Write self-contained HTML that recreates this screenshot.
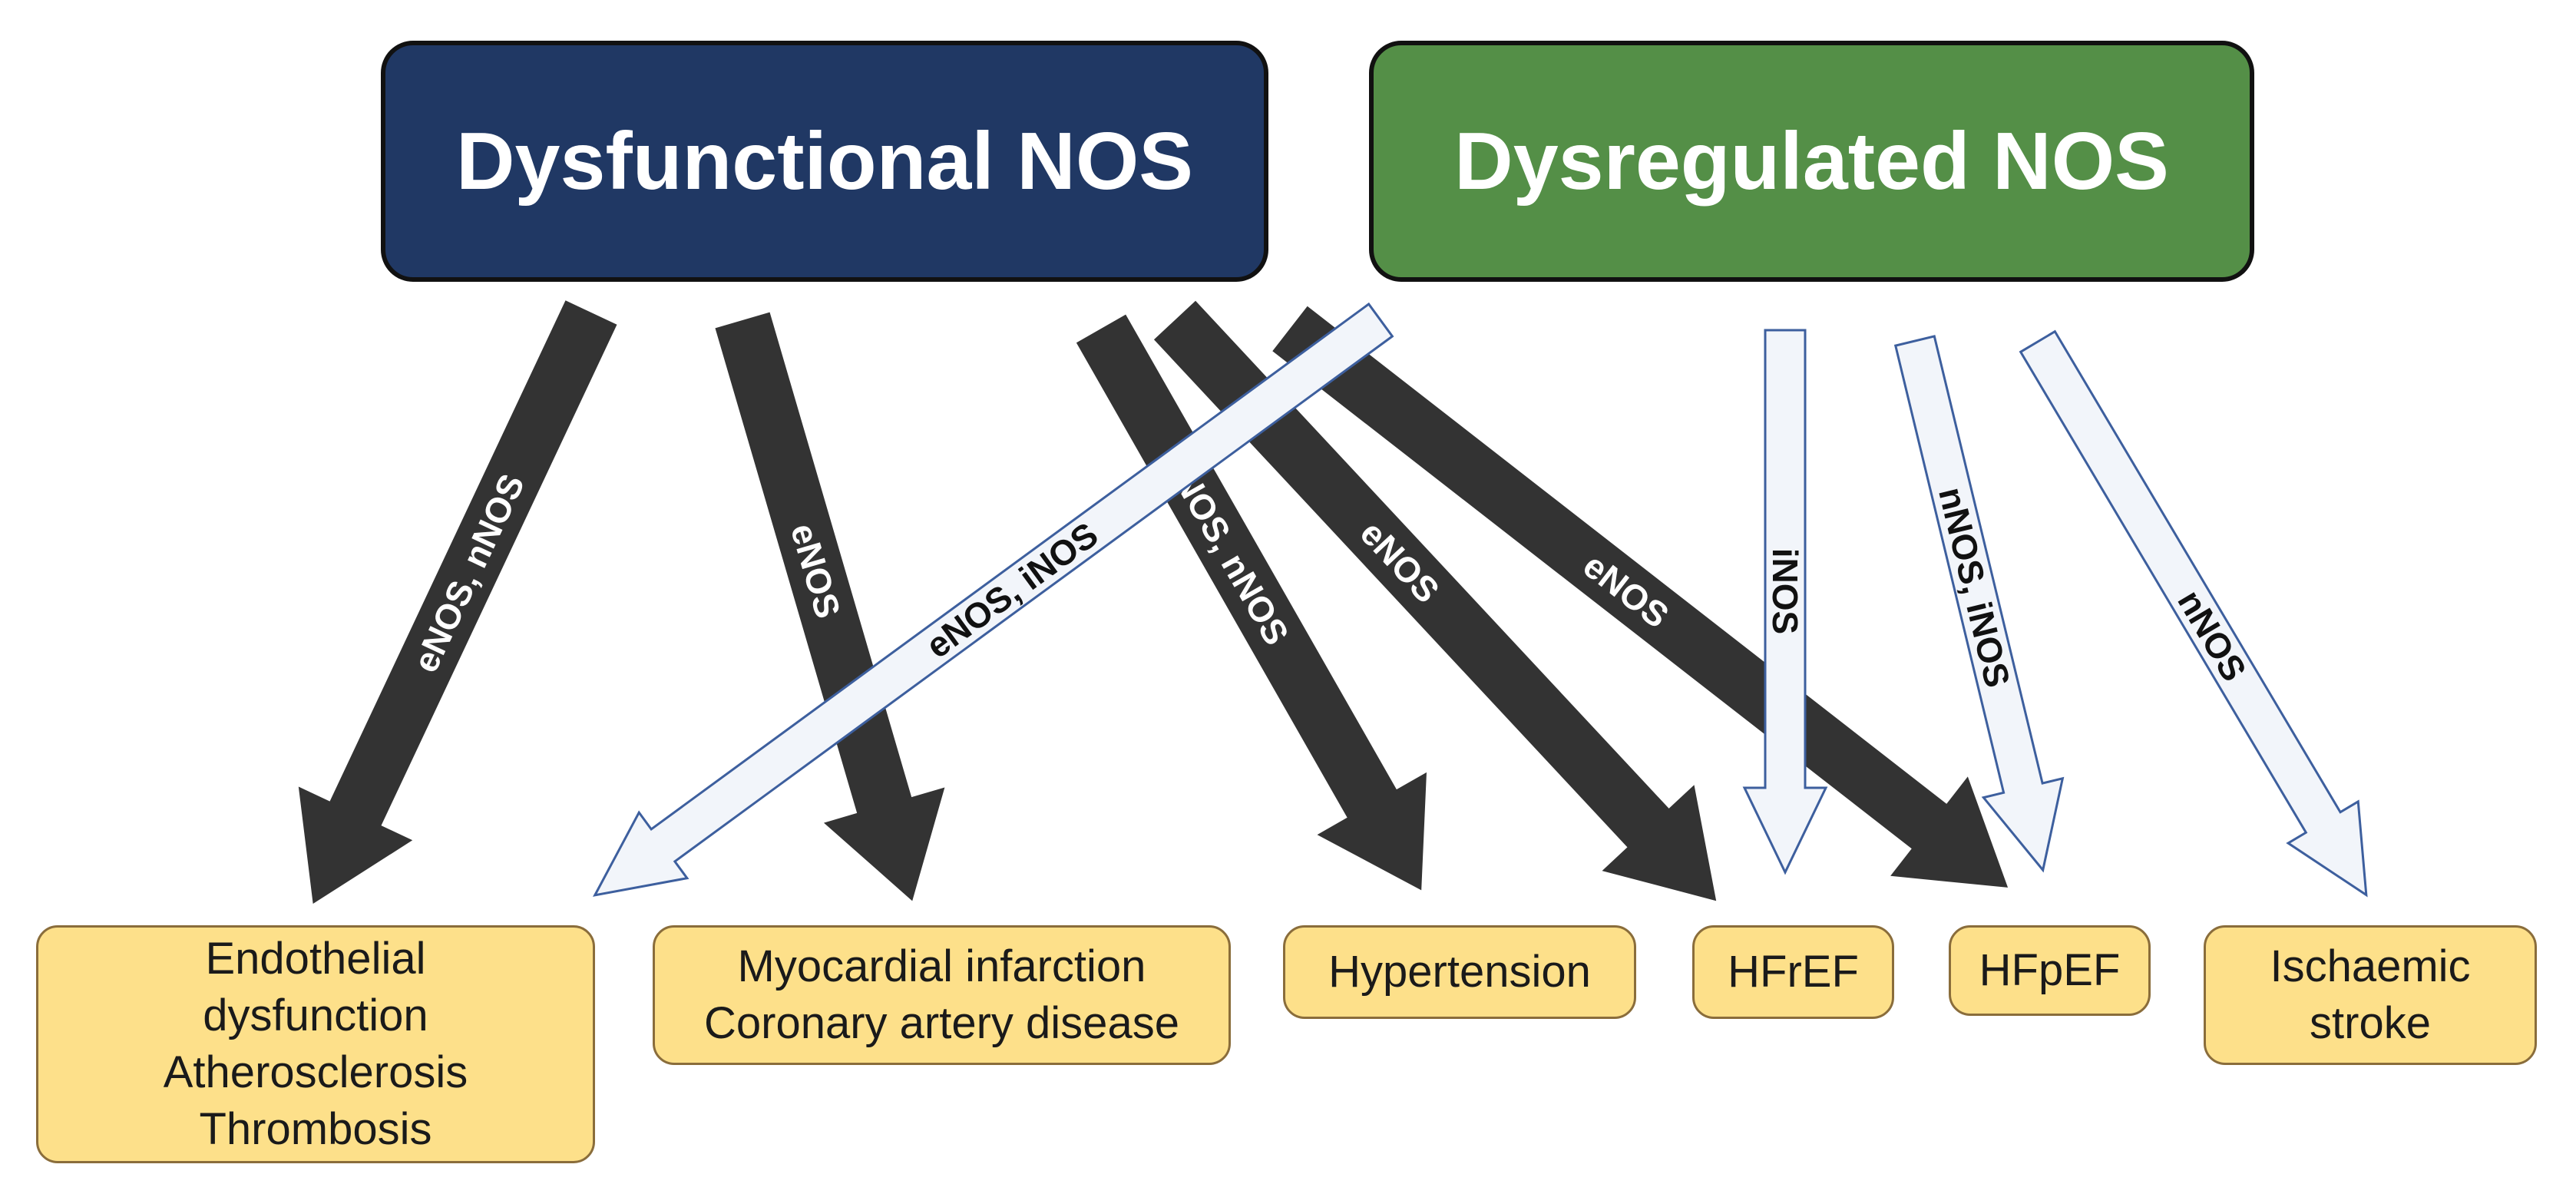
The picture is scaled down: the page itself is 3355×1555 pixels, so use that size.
<!DOCTYPE html>
<html><head><meta charset="utf-8"><style>
html,body{margin:0;padding:0;background:#fff;}
body{width:3355px;height:1555px;position:relative;overflow:hidden;font-family:"Liberation Sans",sans-serif;}
.top{position:absolute;top:53px;height:314px;border:6px solid #111;border-radius:42px;color:#fff;font-weight:bold;font-size:106px;display:flex;align-items:center;justify-content:center;box-sizing:border-box;}
.bx{position:absolute;top:1205px;background:#fde08a;border:3px solid #8a6d3b;border-radius:28px;box-sizing:border-box;display:flex;align-items:center;justify-content:center;text-align:center;font-size:58px;line-height:74px;color:#1a1a1a;white-space:nowrap;}
svg{position:absolute;left:0;top:0;}
</style></head><body>
<div class="top" style="left:496px;width:1156px;background:#203864;">Dysfunctional NOS</div>
<div class="top" style="left:1783px;width:1153px;background:#548f47;">Dysregulated NOS</div>

<svg width="3355" height="1555" viewBox="0 0 3355 1555" font-family="Liberation Sans, sans-serif" font-weight="bold" font-size="46">
<g fill="#333">
 <g transform="translate(770,407) rotate(115.2)"><polygon points="0,-37 721,-37 721,-82 851,0 721,82 721,37 0,37"/><text x="375" y="16" fill="#fff" text-anchor="middle" transform="rotate(180 375 0)">eNOS, nNOS</text></g>
 <g transform="translate(967,417) rotate(73.7)"><polygon points="0,-37 658,-37 658,-82 788,0 658,82 658,37 0,37"/><text x="340" y="16" fill="#fff" text-anchor="middle">eNOS</text></g>
 <g transform="translate(1434,428) rotate(60.3)"><polygon points="0,-37 712,-37 712,-82 842,0 712,82 712,37 0,37"/><text x="330" y="16" fill="#fff" text-anchor="middle">eNOS, nNOS</text></g>
 <g transform="translate(1530,417) rotate(47)"><polygon points="0,-37 904,-37 904,-82 1034,0 904,82 904,37 0,37"/><text x="430" y="16" fill="#fff" text-anchor="middle">eNOS</text></g>
 <g transform="translate(1680,428) rotate(37.9)"><polygon points="0,-37 1055,-37 1055,-82 1185,0 1055,82 1055,37 0,37"/><text x="555" y="16" fill="#fff" text-anchor="middle">eNOS</text></g>
</g>
<g fill="#f2f5fa" stroke="#3d5f9e" stroke-width="3">
 <g transform="translate(1798,417) rotate(143.8)"><polygon points="0,-26 1158,-26 1158,-53 1268,0 1158,53 1158,26 0,26"/><text x="595" y="16" fill="#111" stroke="none" text-anchor="middle" transform="rotate(180 595 0)">eNOS, iNOS</text></g>
 <g transform="translate(2325,430) rotate(90)"><polygon points="0,-26 596,-26 596,-53 706,0 596,53 596,26 0,26"/><text x="340" y="16" fill="#111" stroke="none" text-anchor="middle">iNOS</text></g>
 <g transform="translate(2494,444) rotate(76.4)"><polygon points="0,-26 599,-26 599,-53 709,0 599,53 599,26 0,26"/><text x="330" y="16" fill="#111" stroke="none" text-anchor="middle">nNOS, iNOS</text></g>
 <g transform="translate(2654,445) rotate(59.3)"><polygon points="0,-26 728,-26 728,-53 838,0 728,53 728,26 0,26"/><text x="445" y="16" fill="#111" stroke="none" text-anchor="middle">nNOS</text></g>
</g>
</svg>

<div class="bx" style="left:47px;width:728px;height:310px;">Endothelial<br>dysfunction<br>Atherosclerosis<br>Thrombosis</div>
<div class="bx" style="left:850px;width:753px;height:182px;">Myocardial infarction<br>Coronary artery disease</div>
<div class="bx" style="left:1671px;width:460px;height:122px;">Hypertension</div>
<div class="bx" style="left:2204px;width:263px;height:122px;">HFrEF</div>
<div class="bx" style="left:2538px;width:263px;height:118px;">HFpEF</div>
<div class="bx" style="left:2870px;width:434px;height:182px;">Ischaemic<br>stroke</div>
</body></html>
